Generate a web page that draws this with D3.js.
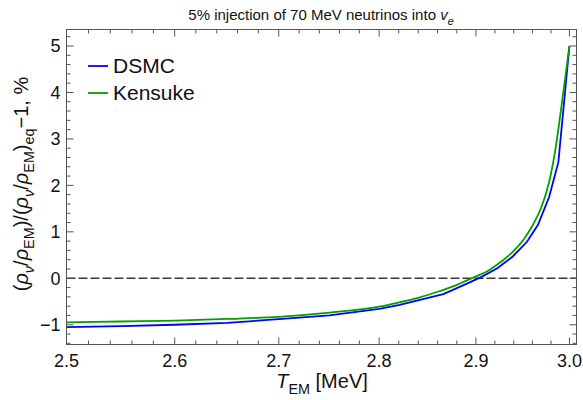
<!DOCTYPE html>
<html>
<head>
<meta charset="utf-8">
<script src="https://cdn.jsdelivr.net/npm/d3@7"></script>
<style>
  body { margin: 0; background: #fff; }
  svg { display: block; font-family: "Liberation Sans", Arial, sans-serif; }
</style>
</head>
<body>
<svg width="583" height="400"></svg>
<script>
// Kensuke curve (smooth)
let kensukeT = [2.50, 2.55, 2.60, 2.65, 2.70, 2.75, 2.80, 2.82, 2.84, 2.86, 2.88, 2.89,
  2.90, 2.91, 2.92, 2.93, 2.94, 2.95, 2.96, 2.97, 2.975, 2.98, 2.985, 2.99, 2.995, 3.00];
let kensukeV = [-0.95, -0.93, -0.91, -0.875, -0.83, -0.74, -0.61, -0.52, -0.42, -0.29, -0.14, -0.05,
  0.04, 0.13, 0.26, 0.41, 0.59, 0.82, 1.13, 1.55, 1.85, 2.25, 2.80, 3.50, 4.25, 5.00];

// DSMC curve (coarser points)
let dsmcT = [2.50, 2.55, 2.60, 2.65, 2.70, 2.75, 2.80, 2.821, 2.848, 2.866, 2.890,
  2.906, 2.923, 2.939, 2.954, 2.966, 2.978, 2.988, 3.00];
let dsmcV = [-1.05, -1.03, -1.00, -0.96, -0.88, -0.80, -0.66, -0.57, -0.43, -0.34, -0.12,
  0.03, 0.22, 0.47, 0.78, 1.15, 1.75, 2.50, 5.00];

let xTicks = [2.5, 2.6, 2.7, 2.8, 2.9, 3.0];
let yTicks = [-1, 0, 1, 2, 3, 4, 5];

let frame = { left: 66.5, right: 576.5, top: 29.5, bottom: 344.5 };

let svg = d3.select('svg');

// x axis is logarithmic in temperature
let x = d3.scaleLog()
  .domain([2.5, 3.0077])
  .range([frame.left, frame.right]);

let y = d3.scaleLinear()
  .domain([-1.425, 5.355])
  .range([frame.bottom, frame.top]);

svg.append('clipPath')
  .attr('id', 'clip')
  .append('rect')
  .attr('x', frame.left)
  .attr('y', frame.top)
  .attr('width', frame.right - frame.left)
  .attr('height', frame.bottom - frame.top);

// zero line
svg.append('line')
  .attr('x1', frame.left).attr('x2', frame.right)
  .attr('y1', y(0)).attr('y2', y(0))
  .attr('stroke', '#3a3a3a')
  .attr('stroke-width', 1.4)
  .attr('stroke-dasharray', '9,3');

let line = d3.line()
  .x(d => x(d[0]))
  .y(d => y(d[1]));

let plot = svg.append('g').attr('clip-path', 'url(#clip)');

plot.append('path')
  .datum(dsmcT.map((t, i) => [t, dsmcV[i]]))
  .attr('d', line)
  .attr('fill', 'none')
  .attr('stroke', '#0000ff')
  .attr('stroke-width', 1.8);

plot.append('path')
  .datum(kensukeT.map((t, i) => [t, kensukeV[i]]))
  .attr('d', line.curve(d3.curveMonotoneX))
  .attr('fill', 'none')
  .attr('stroke', '#00a000')
  .attr('stroke-width', 1.8);

// frame
let frameColor = '#555';
svg.append('rect')
  .attr('x', frame.left)
  .attr('y', frame.top)
  .attr('width', frame.right - frame.left)
  .attr('height', frame.bottom - frame.top)
  .attr('fill', 'none')
  .attr('stroke', frameColor)
  .attr('stroke-width', 1);

// ticks on all four sides, pointing inward
let ticks = svg.append('g').attr('stroke', frameColor).attr('stroke-width', 1);

let xMinor = d3.range(2.5, 3.0001, 0.02).map(v => +v.toFixed(2));
xMinor.forEach(v => {
  let major = xTicks.some(t => Math.abs(t - v) < 1e-6);
  let len = major ? 7 : 4;
  let px = x(v);
  ticks.append('line').attr('x1', px).attr('x2', px)
    .attr('y1', frame.bottom).attr('y2', frame.bottom - len);
  ticks.append('line').attr('x1', px).attr('x2', px)
    .attr('y1', frame.top).attr('y2', frame.top + len);
});

let yMinor = d3.range(-1.4, 5.3001, 0.2).map(v => +v.toFixed(1));
yMinor.forEach(v => {
  let major = yTicks.some(t => Math.abs(t - v) < 1e-6);
  let len = major ? 7 : 4;
  let py = y(v);
  ticks.append('line').attr('y1', py).attr('y2', py)
    .attr('x1', frame.left).attr('x2', frame.left + len);
  ticks.append('line').attr('y1', py).attr('y2', py)
    .attr('x1', frame.right).attr('x2', frame.right - len);
});

// tick labels
svg.append('g')
  .selectAll('text')
  .data(xTicks)
  .enter()
  .append('text')
  .attr('x', d => x(d))
  .attr('y', frame.bottom + 22.5)
  .attr('text-anchor', 'middle')
  .attr('font-size', 18)
  .attr('fill', '#111')
  .text(d => d3.format('.1f')(d));

svg.append('g')
  .selectAll('text')
  .data(yTicks)
  .enter()
  .append('text')
  .attr('x', frame.left - 6)
  .attr('y', d => y(d) + 6.5)
  .attr('text-anchor', 'end')
  .attr('font-size', 18)
  .attr('fill', '#111')
  .text(d => d < 0 ? '\u2212' + Math.abs(d) : d);

// rich text helper: parts with italic / subscript flags
function richText(sel, parts, size) {
  let inSub = false;
  parts.forEach(p => {
    let ts = sel.append('tspan').text(p.t);
    if (p.i) ts.attr('font-style', 'italic');
    if (p.sub) {
      ts.attr('font-size', size * 0.72);
      if (!inSub) ts.attr('dy', size * 0.3);
      inSub = true;
    } else {
      if (inSub) ts.attr('dy', -size * 0.3);
      inSub = false;
    }
  });
}

// title
let title = svg.append('text')
  .attr('x', 321)
  .attr('y', 20)
  .attr('text-anchor', 'middle')
  .attr('font-size', 15)
  .attr('fill', '#111');
richText(title, [
  { t: '5% injection of 70 MeV neutrinos into ' },
  { t: 'v', i: true },
  { t: 'e', i: true, sub: true }
], 15);

// x label
let xLabel = svg.append('text')
  .attr('x', 322)
  .attr('y', 388)
  .attr('text-anchor', 'middle')
  .attr('font-size', 20)
  .attr('fill', '#111');
richText(xLabel, [
  { t: 'T', i: true },
  { t: 'EM', sub: true },
  { t: ' [MeV]' }
], 20);

// y label
let yLabel = svg.append('text')
  .attr('transform', 'translate(28,' + 184 + ') rotate(-90)')
  .attr('text-anchor', 'middle')
  .attr('font-size', 20)
  .attr('fill', '#111');
richText(yLabel, [
  { t: '(' },
  { t: '\u03c1', i: true },
  { t: '\u03bd', i: true, sub: true },
  { t: '/' },
  { t: '\u03c1', i: true },
  { t: 'EM', sub: true },
  { t: ')/(' },
  { t: '\u03c1', i: true },
  { t: '\u03bd', i: true, sub: true },
  { t: '/' },
  { t: '\u03c1', i: true },
  { t: 'EM', sub: true },
  { t: ')' },
  { t: 'eq', sub: true },
  { t: '\u22121, %' }
], 20);

// legend
let legendItems = [
  { name: 'DSMC', color: '#0000ff' },
  { name: 'Kensuke', color: '#00a000' }
];
let legend = svg.append('g').attr('transform', 'translate(88, 66)');
legendItems.forEach((d, i) => {
  let g = legend.append('g').attr('transform', 'translate(0,' + i * 27 + ')');
  g.append('line')
    .attr('x1', 0).attr('x2', 20)
    .attr('y1', 0).attr('y2', 0)
    .attr('stroke', d.color)
    .attr('stroke-width', 1.8);
  g.append('text')
    .attr('x', 25)
    .attr('y', 7)
    .attr('font-size', 21)
    .attr('fill', '#111')
    .text(d.name);
});
</script>
</body>
</html>
